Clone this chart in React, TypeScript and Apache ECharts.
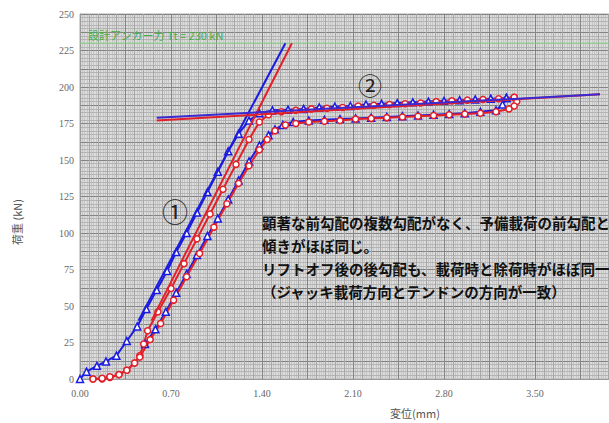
import React, { useEffect, useRef } from "react";
import * as echarts from "echarts";

const xTickLabels = ["0.00", "0.70", "1.40", "2.10", "2.80", "3.50", "4.20"];
const yTickLabels = [0, 25, 50, 75, 100, 125, 150, 175, 200, 225, 250];

const blueLoad: number[][] = [
  [0, 0], [0.05, 5], [0.13, 9], [0.2, 12], [0.28, 16], [0.36, 26], [0.44, 36], [0.51, 48],
  [0.59, 61], [0.67, 74], [0.74, 87], [0.82, 100], [0.9, 114], [0.98, 128], [1.06, 142],
  [1.14, 156], [1.22, 168], [1.3, 177], [1.38, 182], [1.48, 184], [1.6, 184.5], [1.72, 185],
  [1.84, 186], [1.96, 186.5], [2.08, 187], [2.2, 188], [2.32, 188.5], [2.44, 189], [2.56, 189.5],
  [2.68, 190], [2.8, 190.5], [2.92, 191], [3.04, 191.5], [3.16, 192], [3.28, 192.5],
];
const blueUnload: number[][] = [
  [3.28, 192.5], [3.25, 188], [3.2, 184], [3.08, 183], [2.96, 182], [2.84, 181.5], [2.72, 181],
  [2.6, 180.5], [2.48, 180], [2.36, 179.5], [2.24, 179], [2.12, 178.5], [2.0, 178], [1.88, 177.5],
  [1.76, 177], [1.64, 176], [1.56, 174], [1.5, 171], [1.45, 167], [1.38, 160], [1.3, 149],
  [1.22, 136], [1.14, 123], [1.06, 110], [0.98, 98], [0.9, 85], [0.82, 72], [0.74, 59],
  [0.66, 46], [0.58, 34], [0.5, 24],
];
const redLoad: number[][] = [
  [0.1, 0], [0.17, 0], [0.23, 1], [0.3, 3], [0.36, 6], [0.42, 11], [0.46, 16], [0.49, 24],
  [0.52, 33], [0.6, 46], [0.7, 62], [0.8, 79], [0.9, 96], [1.0, 113], [1.1, 130], [1.2, 147],
  [1.3, 164], [1.38, 176], [1.45, 181], [1.55, 183], [1.66, 184], [1.78, 185], [1.9, 185.5],
  [2.02, 186], [2.14, 187], [2.26, 187.5], [2.38, 188], [2.5, 188.5], [2.62, 189], [2.74, 190],
  [2.86, 190.5], [2.98, 191], [3.1, 191.5], [3.22, 192], [3.34, 193],
];
const redUnload: number[][] = [
  [3.34, 193], [3.36, 190], [3.34, 187], [3.3, 185], [3.2, 183], [3.08, 182], [2.96, 181.5],
  [2.84, 181], [2.72, 180.5], [2.6, 180], [2.48, 179.5], [2.36, 179], [2.24, 178.5], [2.12, 178],
  [2.0, 177], [1.88, 176.5], [1.76, 176], [1.66, 175], [1.58, 174], [1.5, 170], [1.44, 164],
  [1.38, 157], [1.3, 146], [1.22, 134], [1.13, 120], [1.03, 104], [0.92, 86], [0.82, 70],
  [0.72, 54], [0.62, 38], [0.54, 27], [0.46, 15], [0.42, 11], [0.36, 6], [0.3, 3], [0.23, 1.5],
  [0.17, 0.5], [0.1, 0],
];
const blueTangent1: number[][] = [[0.45, 40], [1.58, 230]];
const redTangent1: number[][] = [[0.55, 40], [1.63, 230]];
const blueTangent2: number[][] = [[0.59, 179], [4.0, 195]];
const redTangent2: number[][] = [[0.59, 177], [4.0, 195]];
const designLoad: number[][] = [[0, 230], [4.2, 230]];

const noteLines = [
  "顕著な前勾配の複数勾配がなく、予備載荷の前勾配と",
  "傾きがほぼ同じ。",
  "リフトオフ後の後勾配も、載荷時と除荷時がほぼ同一",
  "（ジャッキ載荷方向とテンドンの方向が一致）",
];

const BLUE = "#1c1ce0";
const RED = "#e3202a";

export default function App() {
  const ref = useRef<HTMLDivElement>(null);
  useEffect(() => {
    if (!ref.current) return;
    const chart = echarts.init(ref.current, null, { renderer: "svg" });
    const labelFont = { fontFamily: "Liberation Serif", fontSize: 10, color: "#666" };
    const hiddenAxisParts = {
      axisLine: { show: false },
      axisTick: { show: false },
      axisLabel: { show: false },
    };
    const curve = (data: number[][], color: string, symbol: string) => ({
      type: "line",
      data,
      xAxisIndex: 0,
      yAxisIndex: 0,
      symbol,
      symbolSize: symbol === "circle" ? 6 : 7,
      showSymbol: true,
      lineStyle: { color, width: 2 },
      itemStyle: { color: "#ffffff", borderColor: color, borderWidth: 1.5 },
      z: 3,
    });
    const straight = (data: number[][], color: string) => ({
      type: "line",
      data,
      xAxisIndex: 0,
      yAxisIndex: 0,
      symbol: "none",
      lineStyle: { color, width: 2 },
      z: 4,
    });
    chart.setOption({
      animation: false,
      backgroundColor: "#ffffff",
      grid: {
        left: 80, top: 14, bottom: 44, width: 546,
        outerBoundsMode: "none", containLabel: false,
        show: true, backgroundColor: "#dcdcdc", borderColor: "#aaaaaa", borderWidth: 1,
      },
      xAxis: [
        {
          type: "value", min: 0, max: 4.2, interval: 0.35, z: 2,
          axisLine: { show: true, lineStyle: { color: "#999" } },
          axisTick: { show: false },
          axisLabel: {
            ...labelFont, margin: 9,
            formatter: (v: number) => {
              const k = Math.round(v / 0.35);
              return k % 2 === 0 && k < 12 ? xTickLabels[k / 2] : "";
            },
          },
          splitLine: { show: true, lineStyle: { color: "#848484", width: 1 } },
          minorTick: { show: false, splitNumber: 5 },
          minorSplitLine: { show: true, lineStyle: { color: "#a6a6a6", width: 1 } },
        },
        {
          type: "value", min: 0, max: 4.2, interval: 0.07, z: 1, position: "bottom",
          ...hiddenAxisParts,
          splitLine: { show: false },
          minorTick: { show: false, splitNumber: 4 },
          minorSplitLine: { show: true, lineStyle: { color: "#c6c6c6", width: 1 } },
        },
      ],
      yAxis: [
        {
          type: "value", min: 0, max: 250, interval: 12.5, z: 2,
          axisLine: { show: true, lineStyle: { color: "#999" } },
          axisTick: { show: false },
          axisLabel: {
            ...labelFont, margin: 6,
            formatter: (v: number) => {
              const k = Math.round(v / 12.5);
              return k % 2 === 0 ? String(yTickLabels[k / 2]) : "";
            },
          },
          splitLine: { show: true, lineStyle: { color: "#848484", width: 1 } },
          minorTick: { show: false, splitNumber: 5 },
          minorSplitLine: { show: true, lineStyle: { color: "#b4b4b4", width: 1 } },
        },
      ],
      series: [
        curve(blueLoad, BLUE, "triangle"),
        curve(blueUnload, BLUE, "triangle"),
        curve(redLoad, RED, "circle"),
        curve(redUnload, RED, "circle"),
        straight(blueTangent1, BLUE),
        straight(redTangent1, RED),
        straight(redTangent2, RED),
        straight(blueTangent2, "#3a2ad0"),
        {
          type: "line", data: designLoad, symbol: "none",
          lineStyle: { color: "#86d286", width: 1 }, z: 2,
        },
      ],
      graphic: [
        {
          type: "text", left: 88, top: 29, z: 10,
          style: {
            text: "設計アンカー力 Tt = 230 kN", fill: "#45b045",
            font: "11px 'Noto Sans CJK JP'",
          },
        },
        {
          type: "text", x: 175, y: 210, z: 10,
          style: {
            text: "①", fill: "#222", font: "26px 'Noto Sans CJK JP'",
            align: "center", verticalAlign: "middle",
          },
        },
        {
          type: "text", x: 370, y: 84, z: 10,
          style: {
            text: "②", fill: "#222", font: "24px 'Noto Sans CJK JP'",
            align: "center", verticalAlign: "middle",
          },
        },
        ...noteLines.map((t, i) => ({
          type: "text", x: 262, y: 222 + i * 23.3, z: 10,
          style: {
            text: t, fill: "#111", font: "bold 14.5px 'Noto Sans CJK JP'",
            verticalAlign: "middle",
          },
        })),
        {
          type: "text", x: 17, y: 222, rotation: Math.PI / 2, z: 10,
          style: {
            text: "荷重 (kN)", fill: "#555", font: "11px 'Noto Sans CJK JP'",
            align: "center", verticalAlign: "middle",
          },
        },
        {
          type: "text", x: 415, y: 413, z: 10,
          style: {
            text: "変位(mm)", fill: "#555", font: "11px 'Noto Sans CJK JP'",
            align: "center", verticalAlign: "middle",
          },
        },
      ],
    });
    return () => chart.dispose();
  }, []);
  return <div ref={ref} style={{ width: 609, height: 423, position: "absolute", left: 0, top: 0 }} />;
}
